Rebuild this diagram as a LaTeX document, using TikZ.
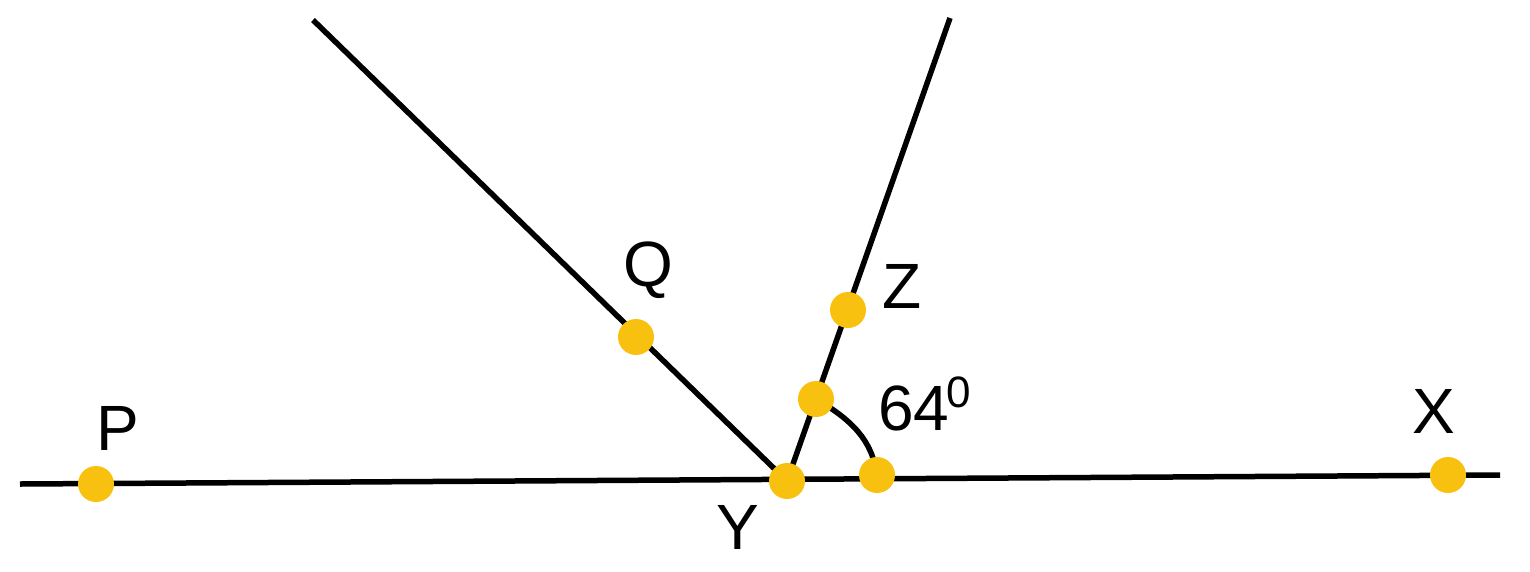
\documentclass[tikz,border=0pt]{standalone}
\usepackage{fontspec}
\setmainfont{Liberation Sans}
\definecolor{dotyellow}{HTML}{F9C10F}
\begin{document}
\begin{tikzpicture}[x=1pt,y=-1pt,
  ln/.style={line width=5.5pt},
  pt/.style={circle,fill=dotyellow,minimum size=36pt,inner sep=0pt},
  lbl/.style={font=\fontsize{64}{76}\selectfont,inner sep=0pt}]
\useasboundingbox (0,0) rectangle (1530,571);
\coordinate (L) at (20,484);
\coordinate (R) at (1500,475);
\coordinate (A) at (313,20);
\coordinate (B) at (950,18);
\coordinate (Yc) at (787,481);
\draw[ln] (L) -- (R);
\draw[ln] (A) -- (Yc);
\draw[ln] (B) -- (Yc);
\coordinate (Vc) at (816,399);
\coordinate (Wc) at (877,475);
\draw[ln] (Vc) .. controls (852,420) and (872,440) .. (Wc);
\node[pt] (P) at (96,484) {};
\node[pt] (Q) at (636,337) {};
\node[pt] (Z) at (848,310) {};
\node[pt] (V) at (Vc) {};
\node[pt] (W) at (Wc) {};
\node[pt] (Y) at (Yc) {};
\node[pt] (X) at (1448,475) {};
\node[lbl] (tP) at (118,428) {P};
\node[lbl] (tQ) at (648,270) {Q};
\node[lbl] (tZ) at (902,286) {Z};
\node[lbl] (tX) at (1434,411) {X};
\node[lbl] (tY) at (738,527) {Y};
\node[lbl,anchor=base west] (tA) at (878,430) {64\kern-3pt\raisebox{23pt}{\fontsize{44}{52}\selectfont 0}};
\end{tikzpicture}
\end{document}
